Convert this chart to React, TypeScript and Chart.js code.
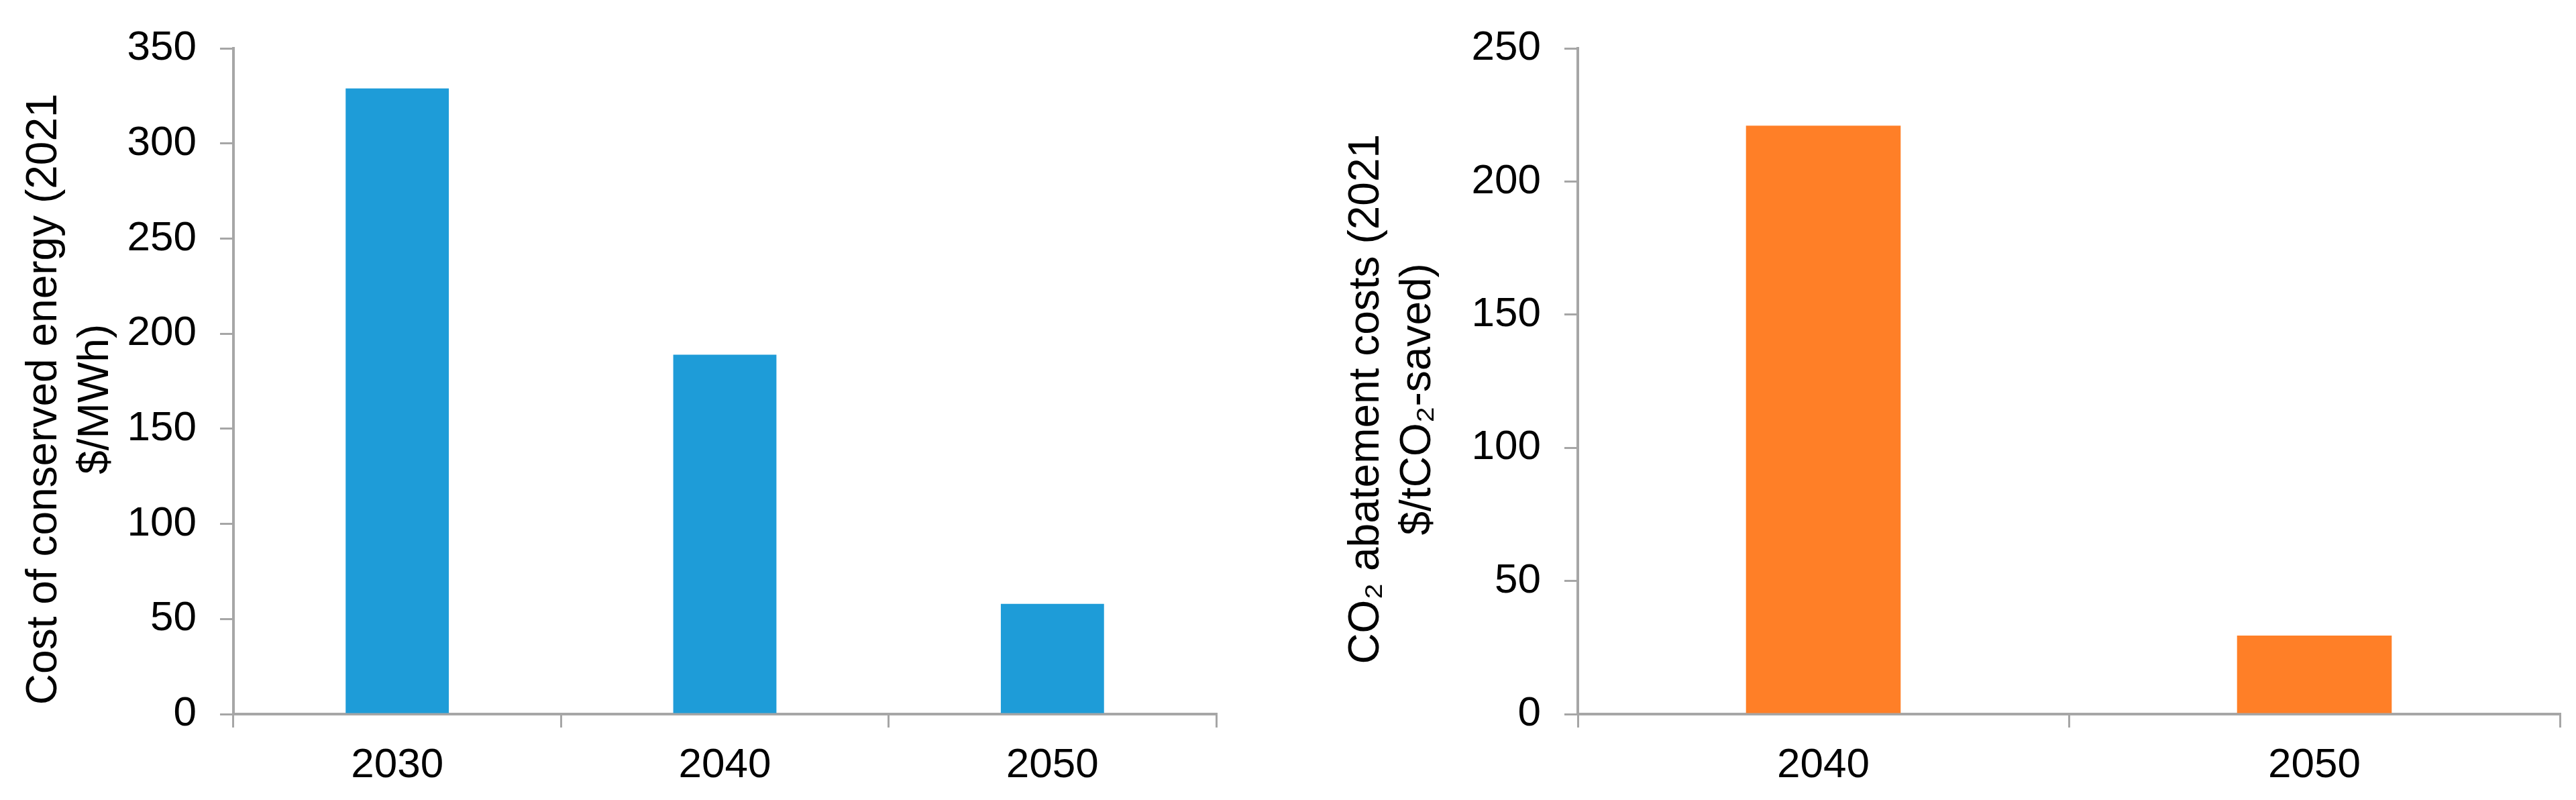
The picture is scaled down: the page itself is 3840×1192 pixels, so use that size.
import React, { useEffect, useRef } from 'react';
import { Chart, registerables } from 'chart.js';

Chart.register(...registerables);

// ---- data ----
const leftCategories = ['2030', '2040', '2050'];
const leftValues = [329, 189, 58];
const leftYTicks = [0, 50, 100, 150, 200, 250, 300, 350];
const leftTitle = ['Cost of conserved energy (2021', '$/MWh)'];

const rightCategories = ['2040', '2050'];
const rightValues = [221, 29.5];
const rightYTicks = [0, 50, 100, 150, 200, 250];
const rightTitle = ['CO\u2082 abatement costs (2021', '$/tCO\u2082-saved)'];

const BLUE = '#1E9CD8';
const ORANGE = '#FF7F27';
const GRAY = '#A6A6A6';
const FONT = 'Liberation Sans, Arial, sans-serif';

type Opts = {
  categories: string[];
  values: number[];
  yTicks: number[];
  title: string[];
  color: string;
  yWidth: number;
  padRight: number;
  titlePad: number;
};

// trailing spaces nudge the centred (rotated) axis title slightly downward, as in the original
const nudge = (lines: string[]) => lines.map((l) => l + '\u00A0\u00A0\u00A0');

function makeConfig(o: Opts): any {
  return {
    type: 'bar',
    data: {
      labels: o.categories,
      datasets: [
        {
          data: o.values,
          backgroundColor: o.color,
          borderWidth: 0,
          categoryPercentage: 1,
          barPercentage: 0.315,
        },
      ],
    },
    options: {
      responsive: false,
      animation: false,
      devicePixelRatio: 1,
      layout: { padding: { top: 72, right: o.padRight, left: 0, bottom: 0 } },
      plugins: { legend: { display: false }, tooltip: { enabled: false } },
      scales: {
        x: {
          grid: {
            drawOnChartArea: false,
            color: GRAY,
            lineWidth: 3,
            tickLength: 20,
            offset: true,
          },
          border: { color: GRAY, width: 4 },
          ticks: {
            color: '#000',
            padding: 20,
            font: { family: FONT, size: 62 },
            maxRotation: 0,
          },
          afterFit: (s: any) => {
            s.height = 128;
          },
        },
        y: {
          min: o.yTicks[0],
          max: o.yTicks[o.yTicks.length - 1],
          afterBuildTicks: (s: any) => {
            s.ticks = o.yTicks.map((v) => ({ value: v }));
          },
          grid: {
            drawOnChartArea: false,
            color: GRAY,
            lineWidth: 3,
            tickLength: 20,
          },
          border: { color: GRAY, width: 4 },
          ticks: {
            color: '#000',
            padding: 35,
            font: { family: FONT, size: 62 },
          },
          title: {
            display: true,
            text: nudge(o.title),
            color: '#000',
            font: { family: FONT, size: 64, lineHeight: 1.2 },
            padding: { top: o.titlePad, bottom: 0 },
          },
          afterFit: (s: any) => {
            s.width = o.yWidth;
          },
        },
      },
    },
  };
}

function BarPanel(props: { opts: Opts; width: number; left: number }) {
  const ref = useRef<HTMLCanvasElement | null>(null);
  useEffect(() => {
    if (!ref.current) return;
    const chart = new Chart(ref.current, makeConfig(props.opts));
    return () => chart.destroy();
  }, []);
  return (
    <canvas
      ref={ref}
      width={props.width}
      height={1192}
      style={{
        position: 'absolute',
        left: props.left,
        top: 0,
        width: props.width,
        height: 1192,
        display: 'block',
      }}
    />
  );
}

export default function App() {
  return (
    <div
      style={{
        position: 'absolute',
        left: 0,
        top: 0,
        width: 3840,
        height: 1192,
        background: '#fff',
        overflow: 'hidden',
      }}
    >
      <BarPanel
        left={0}
        width={1900}
        opts={{
          categories: leftCategories,
          values: leftValues,
          yTicks: leftYTicks,
          title: leftTitle,
          color: BLUE,
          yWidth: 348,
          padRight: 87,
          titlePad: 28,
        }}
      />
      <BarPanel
        left={1900}
        width={1940}
        opts={{
          categories: rightCategories,
          values: rightValues,
          yTicks: rightYTicks,
          title: rightTitle,
          color: ORANGE,
          yWidth: 452,
          padRight: 24,
          titlePad: 99,
        }}
      />
    </div>
  );
}
